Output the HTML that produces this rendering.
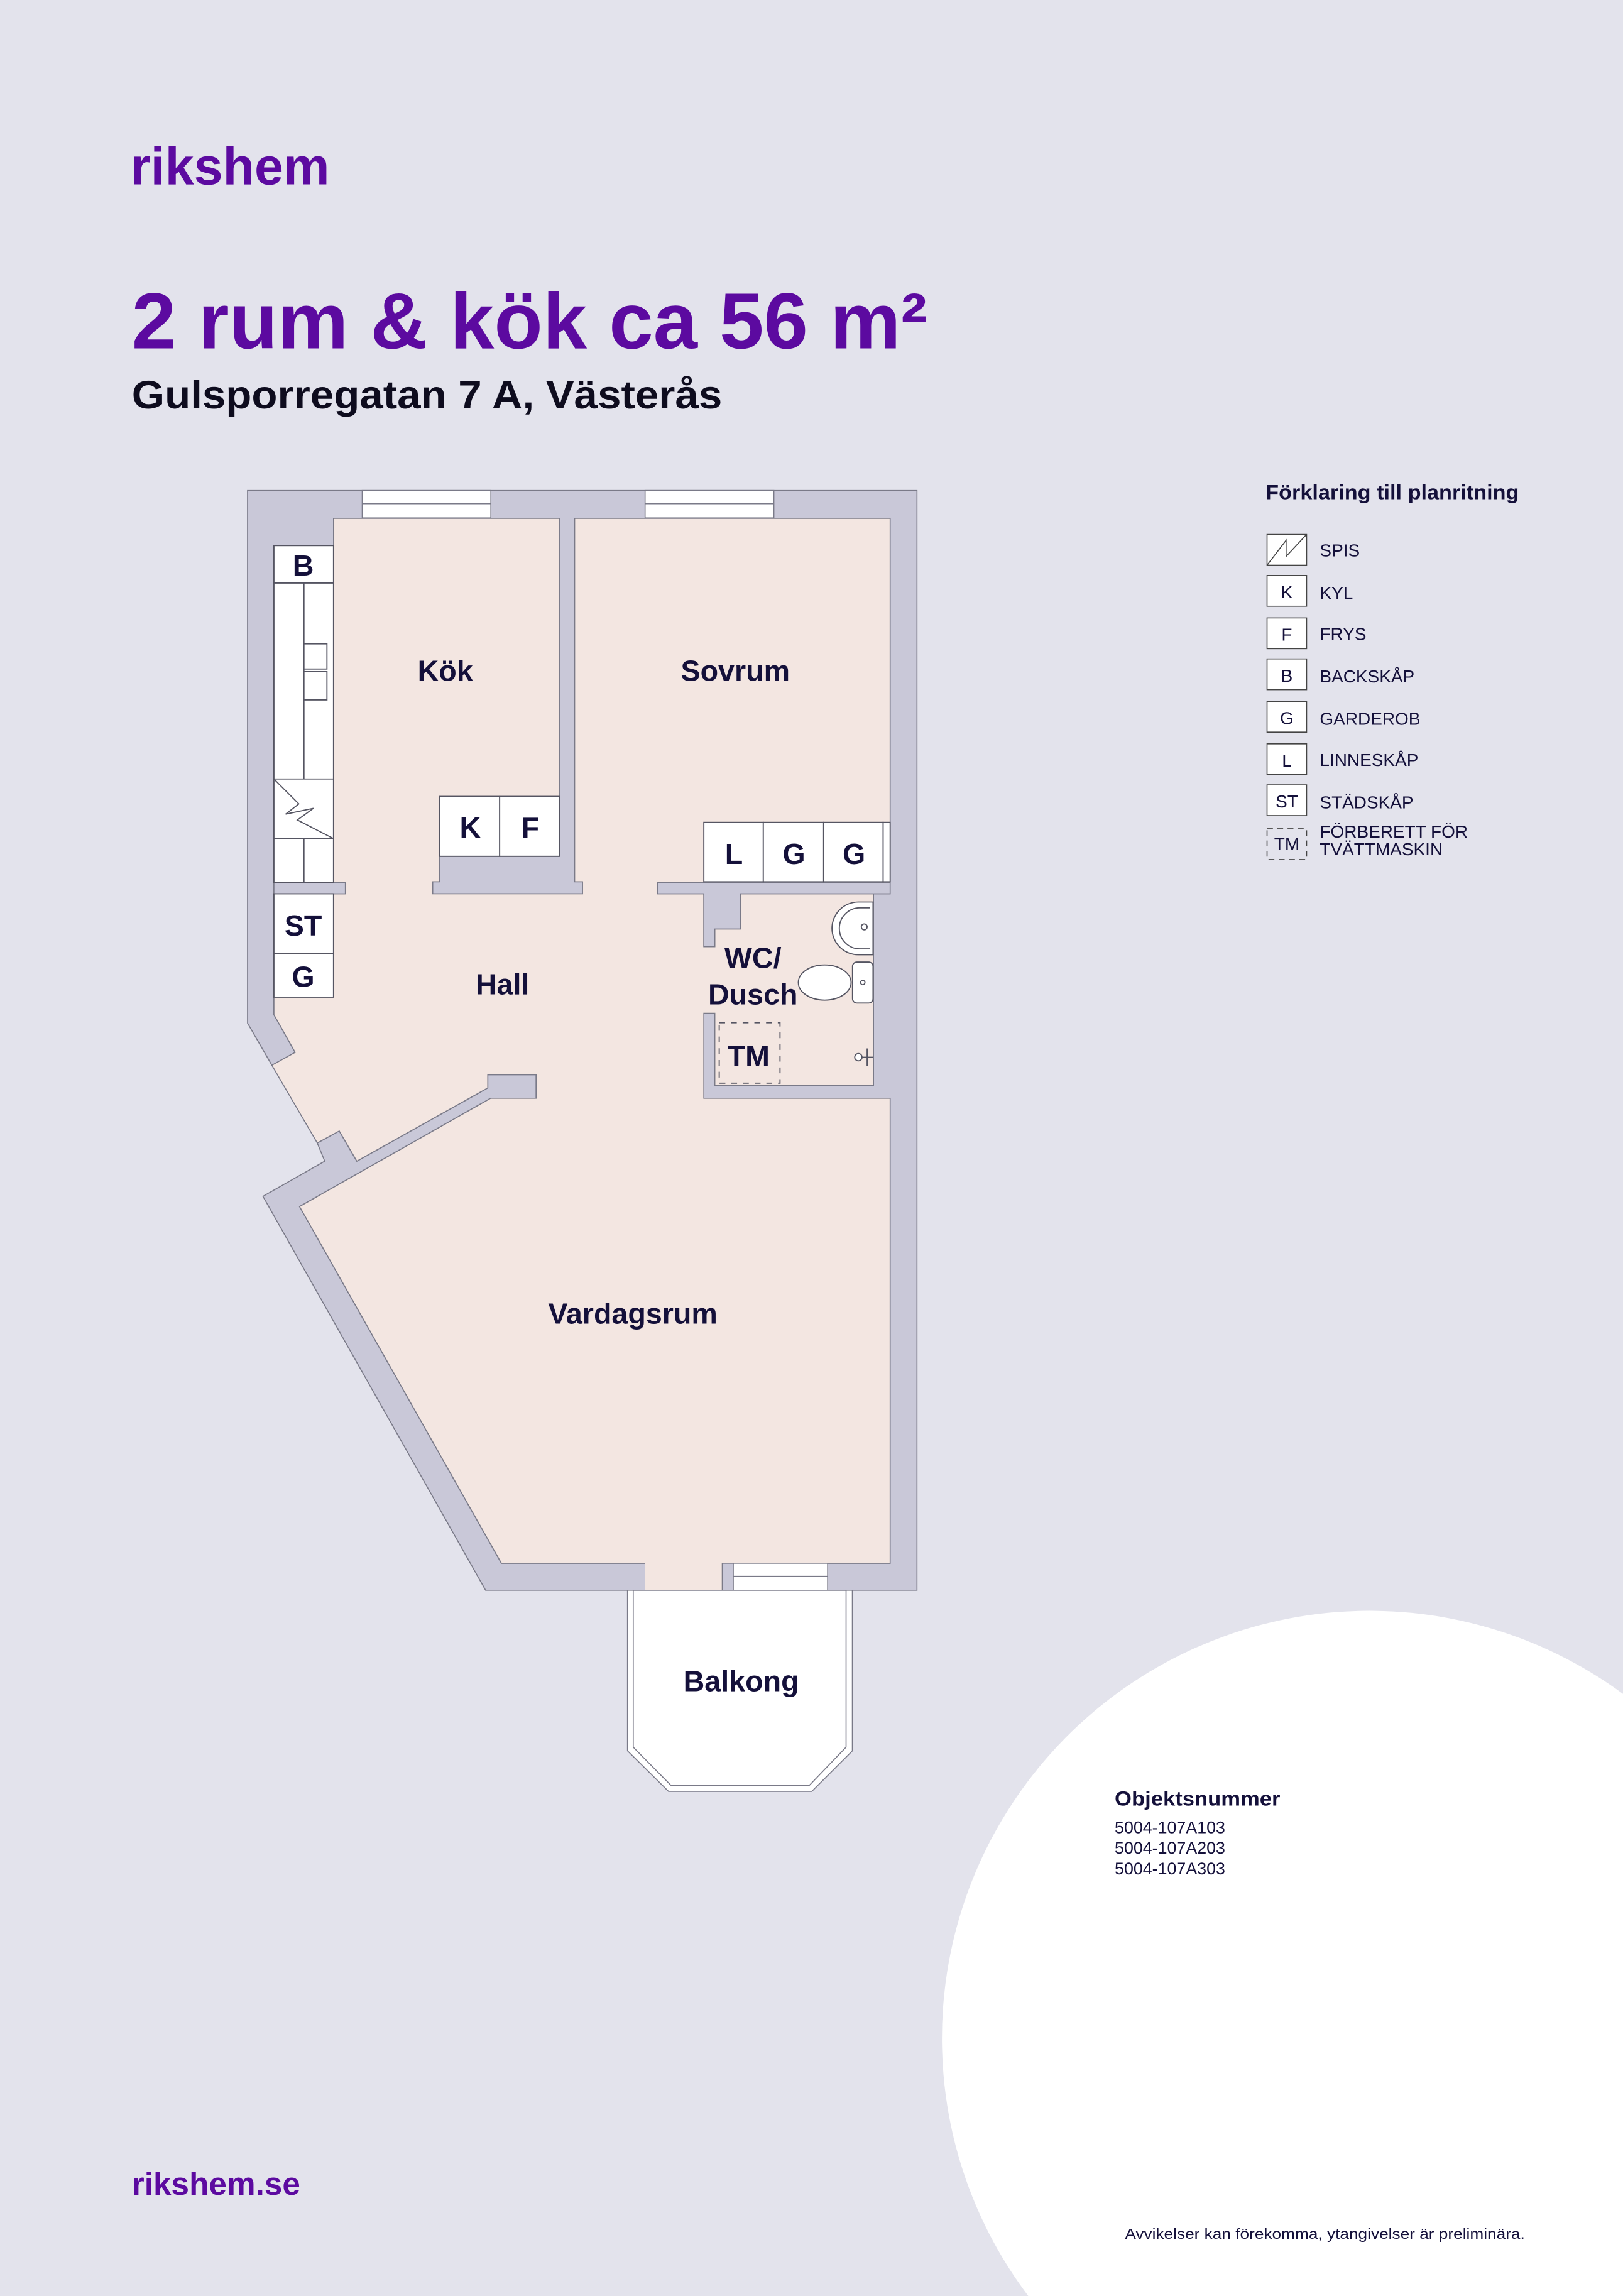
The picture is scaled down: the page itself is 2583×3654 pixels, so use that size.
<!DOCTYPE html>
<html><head><meta charset="utf-8"><style>
html,body{margin:0;padding:0;background:#e3e3ec;width:2583px;height:3654px;overflow:hidden;}
svg{display:block;}
text{font-family:"Liberation Sans",sans-serif;font-weight:bold;}
</style></head><body>
<svg width="2583" height="3654" viewBox="0 0 1108 1568" preserveAspectRatio="none" xmlns="http://www.w3.org/2000/svg">
<rect x="0" y="0" width="1108" height="1568" fill="#e3e3ec"/>
<path d="M702,1568 A292,292 0 0 1 1108,1156.8 L1108,1568 Z" fill="#ffffff"/>

<text x="89" y="126" font-size="36" fill="#5c0aa0" textLength="136" lengthAdjust="spacingAndGlyphs">rikshem</text>
<text x="90" y="238" font-size="54" fill="#5c0aa0" textLength="543" lengthAdjust="spacingAndGlyphs">2 rum &amp; kök ca 56 m²</text>
<text x="90" y="279" font-size="27" fill="#0e0c1e" textLength="403" lengthAdjust="spacingAndGlyphs">Gulsporregatan 7 A, Västerås</text>

<g stroke="#7a7a88" stroke-width="0.7" stroke-linejoin="miter">
<path d="M169,335 L626,335 L626,1086 L331.5,1086 L179.5,817 L221.7,793 L216.6,780.6 L231.6,772.4 L243.6,793 L333,743 L333,734 L366,734 L366,750 L335,750 L204.5,824 L342.3,1067.6 L607.7,1067.6 L607.7,750 L480.5,750 L480.5,692 L488,692 L488,741.4 L596.3,741.4 L596.3,610.4 L607.7,610.4 L607.7,354 L392.3,354 L392.3,602.2 L397.7,602.2 L397.7,610.4 L295.4,610.4 L295.4,602.2 L299.9,602.2 L299.9,584.8 L381.8,584.8 L381.8,354 L227.7,354 L227.7,372.6 L187,372.6 L187,693 L201.5,718.7 L185.6,727.5 L169,698.7 Z" fill="#c9c8d8"/>
<path d="M227.7,354 L381.8,354 L381.8,584.8 L299.9,584.8 L299.9,602.2 L295.4,602.2 L295.4,610.4 L397.7,610.4 L397.7,602.2 L392.3,602.2 L392.3,354 L607.7,354 L607.7,602.8 L448.9,602.8 L448.9,610.4 L480.5,610.4 L480.5,646.5 L488,646.5 L488,634.4 L505.4,634.4 L505.4,610.4 L596.3,610.4 L596.3,741.4 L488,741.4 L488,692 L480.5,692 L480.5,750 L607.7,750 L607.7,1067.6 L342.3,1067.6 L204.5,824 L335,750 L366,750 L366,734 L333,734 L333,743 L243.6,793 L231.6,772.4 L216.6,780.6 L185.6,727.5 L201.5,718.7 L187,693 L187,610.4 L235.8,610.4 L235.8,602.8 L227.7,602.8 Z" fill="#f3e6e1"/>
<path d="M448.9,602.8 L607.7,602.8 L607.7,610.4 L505.4,610.4 L505.4,634.4 L488,634.4 L488,646.5 L480.5,646.5 L480.5,610.4 L448.9,610.4 Z" fill="#c9c8d8"/>
<rect x="187" y="602.8" width="48.8" height="7.6" fill="#c9c8d8"/>
<rect x="440.4" y="1067.2" width="52.7" height="18.5" fill="#f3e6e1" stroke="none"/>
<rect x="493.1" y="1067.6" width="7.5" height="18.5" fill="#c9c8d8"/>
<rect x="247.3" y="335" width="87.8" height="18.7" fill="#ffffff"/>
<line x1="247.3" y1="344" x2="335.1" y2="344"/>
<rect x="440.4" y="335" width="87.9" height="18.7" fill="#ffffff"/>
<line x1="440.4" y1="344" x2="528.3" y2="344"/>
<rect x="500.6" y="1067.6" width="64.4" height="18.5" fill="#ffffff"/>
<line x1="500.6" y1="1076.5" x2="565" y2="1076.5"/>
<path d="M428.4,1086 L581.9,1086 L581.9,1195.7 L554.2,1223.4 L456.4,1223.4 L428.4,1195.7 Z" fill="#ffffff"/>
<path d="M432.3,1086 L577.6,1086 L577.6,1193.2 L552.6,1219.2 L458,1219.2 L432.3,1193.2 Z" fill="none"/>
</g>

<g stroke="#555562" stroke-width="0.8" fill="#ffffff">
<rect x="187" y="372.6" width="40.7" height="25.6"/>
<rect x="187" y="398.2" width="40.7" height="204.6"/>
<line x1="207.5" y1="398.2" x2="207.5" y2="532"/>
<line x1="187" y1="532" x2="227.7" y2="532"/>
<line x1="187" y1="572.7" x2="227.7" y2="572.7"/>
<line x1="207.5" y1="572.7" x2="207.5" y2="602.8"/>
<rect x="207.5" y="439.7" width="15.7" height="17.2"/>
<rect x="207.5" y="458.7" width="15.7" height="19.3"/>
<polyline points="187,532 204,549 195,556 214,552 203,560 227.7,572.7" fill="none"/>
<rect x="187" y="610.4" width="40.7" height="40.6"/>
<rect x="187" y="651" width="40.7" height="30"/>
<rect x="299.9" y="543.9" width="41.2" height="40.9"/>
<rect x="341.1" y="543.9" width="40.7" height="40.9"/>
<rect x="480.5" y="561.6" width="40.6" height="40.6"/>
<rect x="521.1" y="561.6" width="41.2" height="40.6"/>
<rect x="562.3" y="561.6" width="40.6" height="40.6"/>
<rect x="602.9" y="561.6" width="4.8" height="40.6"/>
<path d="M596,616 L586,616 A18,18 0 0 0 586,652 L596,652 Z"/>
<path d="M594,620 L587,620 A14,14 0 0 0 587,648 L594,648"/>
<circle cx="590" cy="633" r="2"/>
<rect x="582" y="657" width="14" height="28" rx="3"/>
<ellipse cx="563" cy="671" rx="18" ry="12"/>
<circle cx="589" cy="671" r="1.5"/>
<circle cx="586" cy="722" r="2.5"/>
<line x1="588" y1="722" x2="596" y2="722"/>
<line x1="592" y1="716" x2="592" y2="728"/>
<rect x="491" y="698.5" width="41.5" height="41.2" fill="none" stroke-dasharray="4,4"/>
</g>

<g fill="#14103a" font-size="20">
<text x="304" y="465" text-anchor="middle">Kök</text>
<text x="502" y="465" text-anchor="middle">Sovrum</text>
<text x="343" y="679" text-anchor="middle">Hall</text>
<text x="514" y="661" text-anchor="middle">WC/</text>
<text x="514" y="686" text-anchor="middle">Dusch</text>
<text x="432" y="904" text-anchor="middle">Vardagsrum</text>
<text x="506" y="1155" text-anchor="middle">Balkong</text>
<text x="207" y="393" text-anchor="middle">B</text>
<text x="207" y="639" text-anchor="middle">ST</text>
<text x="207" y="674" text-anchor="middle">G</text>
<text x="321" y="572" text-anchor="middle">K</text>
<text x="362" y="572" text-anchor="middle">F</text>
<text x="501" y="590" text-anchor="middle">L</text>
<text x="542" y="590" text-anchor="middle">G</text>
<text x="583" y="590" text-anchor="middle">G</text>
<text x="511" y="728" text-anchor="middle">TM</text>
</g>

<text x="864" y="341" font-size="14" fill="#14103a" textLength="173" lengthAdjust="spacingAndGlyphs">Förklaring till planritning</text>
<g stroke="#444" stroke-width="0.7" fill="#ffffff">
<rect x="865" y="365" width="27" height="21"/>
<polyline points="865,386 878,369 878,380 892,365" fill="none"/>
<rect x="865" y="393" width="27" height="21"/>
<rect x="865" y="422" width="27" height="21"/>
<rect x="865" y="450" width="27" height="21"/>
<rect x="865" y="479" width="27" height="21"/>
<rect x="865" y="508" width="27" height="21"/>
<rect x="865" y="536" width="27" height="21"/>
<rect x="865" y="566" width="27" height="21" stroke-dasharray="4,3" fill="none"/>
</g>
<g fill="#14103a" font-size="12">
<text x="878.5" y="408.5" text-anchor="middle" style="font-weight:normal">K</text>
<text x="878.5" y="437.5" text-anchor="middle" style="font-weight:normal">F</text>
<text x="878.5" y="465.5" text-anchor="middle" style="font-weight:normal">B</text>
<text x="878.5" y="494.5" text-anchor="middle" style="font-weight:normal">G</text>
<text x="878.5" y="523.5" text-anchor="middle" style="font-weight:normal">L</text>
<text x="878.5" y="551.5" text-anchor="middle" style="font-weight:normal">ST</text>
<text x="878.5" y="580.5" text-anchor="middle" style="font-weight:normal">TM</text>
<text x="901" y="380" style="font-weight:normal">SPIS</text>
<text x="901" y="409" style="font-weight:normal">KYL</text>
<text x="901" y="437" style="font-weight:normal">FRYS</text>
<text x="901" y="466" style="font-weight:normal">BACKSKÅP</text>
<text x="901" y="495" style="font-weight:normal">GARDEROB</text>
<text x="901" y="523" style="font-weight:normal">LINNESKÅP</text>
<text x="901" y="552" style="font-weight:normal">STÄDSKÅP</text>
<text x="901" y="572" style="font-weight:normal">FÖRBERETT FÖR</text>
<text x="901" y="584" style="font-weight:normal">TVÄTTMASKIN</text>
</g>

<text x="761" y="1233" font-size="14" fill="#14103a" textLength="113" lengthAdjust="spacingAndGlyphs">Objektsnummer</text>
<g fill="#14103a" font-size="11.5">
<text x="761" y="1252" style="font-weight:normal">5004-107A103</text>
<text x="761" y="1266" style="font-weight:normal">5004-107A203</text>
<text x="761" y="1280" style="font-weight:normal">5004-107A303</text>
</g>

<text x="90" y="1499" font-size="22" fill="#5c0aa0" textLength="115" lengthAdjust="spacingAndGlyphs">rikshem.se</text>
<text x="768" y="1529" font-size="10" fill="#14103a" style="font-weight:normal" textLength="273" lengthAdjust="spacingAndGlyphs">Avvikelser kan förekomma, ytangivelser är preliminära.</text>
</svg>
</body></html>
